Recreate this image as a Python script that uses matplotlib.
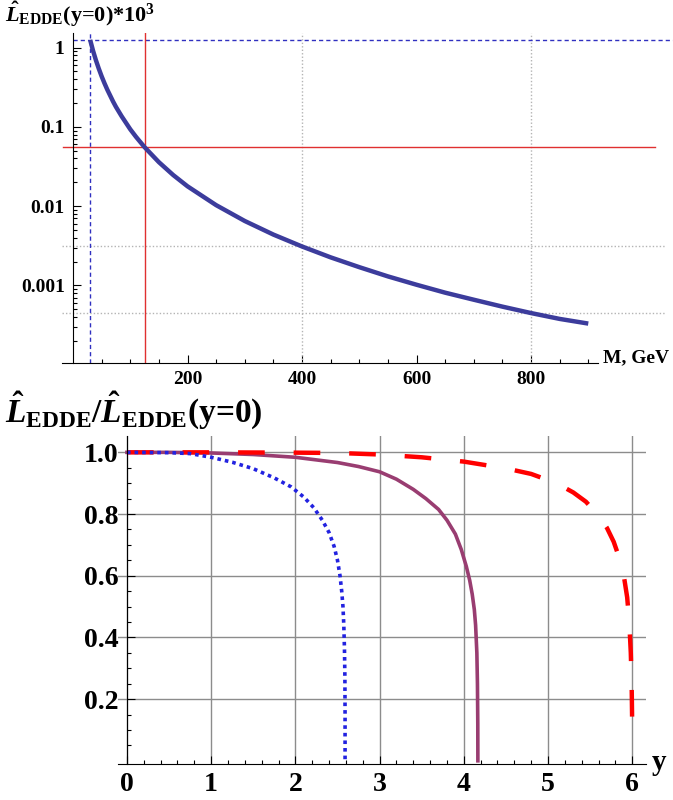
import matplotlib
matplotlib.use("Agg")
import matplotlib.pyplot as plt
from matplotlib.ticker import FixedLocator, FixedFormatter

plt.rcParams['font.family'] = ['Liberation Serif', 'DejaVu Serif']
plt.rcParams['font.weight'] = 'bold'
plt.rcParams['mathtext.fontset'] = 'custom'
plt.rcParams['mathtext.rm'] = 'Liberation Serif:bold'
plt.rcParams['mathtext.it'] = 'Liberation Serif:italic:bold'
plt.rcParams['mathtext.bf'] = 'Liberation Serif:bold'

# Datos
# Panel superior: L_EDDE(y=0)*10^3 contra M
masa = [30, 35, 40, 45, 50, 55, 60, 70, 75, 85, 100, 110, 125, 150, 175, 200, 250,
        300, 350, 400, 450, 500, 550, 600, 650, 700, 750, 800, 850, 900]
lumi = [1.25, 0.914, 0.695, 0.544, 0.435, 0.355, 0.294, 0.209, 0.179, 0.136, 0.0933,
        0.075, 0.0555, 0.0359, 0.0247, 0.0178, 0.0103, 0.0065, 0.00438, 0.0031,
        0.00226, 0.0017, 0.0013, 0.00102, 0.00081, 0.00066, 0.00054, 0.000448,
        0.000378, 0.00033]
m_min, m_higgs = 30, 125
l_max, l_higgs = 1.25, 0.0555
m_grid = [400, 800]
l_grid = [0.00316, 0.000448]
ytick_sup = [1, 0.1, 0.01, 0.001]
ytick_sup_lab = ["1", "0.1", "0.01", "0.001"]
xtick_sup = [200, 400, 600, 800]
xtick_sup_lab = ["200", "400", "600", "800"]

# Panel inferior: L_EDDE / L_EDDE(y=0) contra y
y_azul = [0, 0.5, 0.75, 1.0, 1.25, 1.5, 1.75, 1.95, 2.1, 2.22, 2.32, 2.4, 2.46, 2.5,
          2.53, 2.55, 2.565, 2.575, 2.583, 2.588, 2.59, 2.59]
r_azul = [1.0, 0.999, 0.996, 0.984, 0.968, 0.947, 0.917, 0.888, 0.855, 0.82, 0.78,
          0.74, 0.695, 0.65, 0.6, 0.55, 0.5, 0.44, 0.36, 0.27, 0.15, 0.0]
y_rosa = [0, 0.5, 1.0, 1.5, 2.0, 2.5, 2.75, 3.0, 3.2, 3.4, 3.55, 3.7, 3.8, 3.9,
          3.97, 4.03, 4.07, 4.1, 4.125, 4.14, 4.155, 4.162, 4.166, 4.167]
r_rosa = [1.0, 1.0, 0.998, 0.993, 0.984, 0.967, 0.954, 0.937, 0.913, 0.88, 0.85,
          0.815, 0.78, 0.735, 0.685, 0.63, 0.585, 0.54, 0.49, 0.44, 0.35, 0.25,
          0.12, 0.0]
y_rojo = [0, 1, 2, 2.5, 3.0, 3.5, 4.0, 4.5, 4.8, 5.1, 5.3, 5.45, 5.6, 5.7, 5.78,
          5.85, 5.9, 5.94, 5.965, 5.983, 5.993, 5.998, 6.0]
r_rojo = [1.0, 1.0, 0.999, 0.998, 0.993, 0.984, 0.97, 0.948, 0.93, 0.90, 0.87, 0.84,
          0.795, 0.755, 0.71, 0.655, 0.6, 0.53, 0.45, 0.35, 0.25, 0.15, 0.09]
xtick_inf = [0, 1, 2, 3, 4, 5, 6]
xtick_inf_lab = ["0", "1", "2", "3", "4", "5", "6"]
ytick_inf = [0.2, 0.4, 0.6, 0.8, 1.0]
ytick_inf_lab = ["0.2", "0.4", "0.6", "0.8", "1.0"]

W, H = 673, 800
fig = plt.figure(figsize=(W / 100, H / 100), dpi=100)

# -------------------- panel superior --------------------
ax1 = fig.add_axes([61.55 / W, 1 - 363 / H, 612.6 / W, 330 / H])
ax1.set_yscale('log')
xmin1, xmax1 = -20, 1050
ymin1, ymax1 = 1.05e-4, 1.53
ax1.set_xlim(xmin1, xmax1)
ax1.set_ylim(ymin1, ymax1)

gris = '#b4b4b4'
for m in m_grid:
    ax1.plot([m, m], [ymin1, ymax1], color=gris, lw=1, dashes=(1, 1.5))
for l in l_grid:
    ax1.plot([-19, 1034], [l, l], color=gris, lw=1, dashes=(1, 1.5))

ax1.plot([m_min, m_min], [ymin1, ymax1], color='#3030c0', lw=1, dashes=(3, 2.2))
ax1.plot([0, xmax1], [l_max, l_max], color='#3030c0', lw=1, dashes=(3, 2.2))
ax1.plot([m_higgs, m_higgs], [ymin1, ymax1], color='#e03030', lw=1)
ax1.plot([-17.5, 1016], [l_higgs, l_higgs], color='#e03030', lw=1)

ax1.plot(masa, lumi, color='#3c3c9c', lw=3.2, solid_capstyle='butt')

for s in ['top', 'right']:
    ax1.spines[s].set_visible(False)
ax1.spines['left'].set_position(('data', 0))
ax1.spines['bottom'].set_bounds(-19, 917)
ax1.yaxis.set_major_locator(FixedLocator(ytick_sup))
ax1.yaxis.set_major_formatter(FixedFormatter(ytick_sup_lab))
ax1.xaxis.set_major_locator(FixedLocator(xtick_sup))
ax1.xaxis.set_major_formatter(FixedFormatter(xtick_sup_lab))
ax1.xaxis.set_minor_locator(FixedLocator([v for v in range(50, 901, 50) if v % 200]))
ax1.tick_params(which='both', direction='in', width=0.8)
ax1.tick_params(which='major', length=6, labelsize=14, pad=6)
ax1.tick_params(which='minor', length=3)
ax1.text(603 / W, 1 - 358 / H, "M, GeV", transform=fig.transFigure,
         fontsize=14, ha='left', va='center')
fig.text(5 / W, 1 - 0 / H, r'$\hat{L}_{\mathrm{EDDE}}$(y=0)*10$^{3}$',
         fontsize=16, ha='left', va='top')

# -------------------- panel inferior --------------------
ax2 = fig.add_axes([117.7 / W, 1 - 763.9 / H, 528 / W, 327.9 / H])
xmin2, xmax2 = -0.11, 6.16
ymin2, ymax2 = -0.01, 1.053
ax2.set_xlim(xmin2, xmax2)
ax2.set_ylim(ymin2, ymax2)

ax2.xaxis.set_major_locator(FixedLocator(xtick_inf))
ax2.xaxis.set_major_formatter(FixedFormatter(xtick_inf_lab))
ax2.yaxis.set_major_locator(FixedLocator(ytick_inf))
ax2.yaxis.set_major_formatter(FixedFormatter(ytick_inf_lab))
ax2.xaxis.set_minor_locator(FixedLocator([i * 0.2 for i in range(31) if i % 5]))
ax2.yaxis.set_minor_locator(FixedLocator([i * 0.05 for i in range(1, 21) if i % 4]))
ax2.grid(True, which='major', color='#8c8c8c', lw=1)
ax2.set_axisbelow(True)

ax2.plot(y_rosa, r_rosa, color='#993d71', lw=2.6)
ax2.plot(y_rojo, r_rojo, color='#ff0000', lw=3.2, dashes=(6, 6.5))
ax2.plot(y_azul, r_azul, color='#2222e0', lw=2.6, dashes=(1, 1.1))

for s in ['top', 'right']:
    ax2.spines[s].set_visible(False)
ax2.spines['left'].set_position(('data', 0))
ax2.tick_params(which='both', direction='in', width=0.8)
ax2.tick_params(which='major', length=6, labelsize=20, pad=6)
ax2.tick_params(which='minor', length=3)
fig.text(652 / W, 1 - 762 / H, "y", fontsize=21, ha='left', va='center')
fig.text(5 / W, 1 - 390 / H, r'$\hat{L}_{\mathrm{EDDE}}$/$\hat{L}_{\mathrm{EDDE}}$(y=0)',
         fontsize=24, ha='left', va='top')

fig.savefig("out.png", dpi=100)
